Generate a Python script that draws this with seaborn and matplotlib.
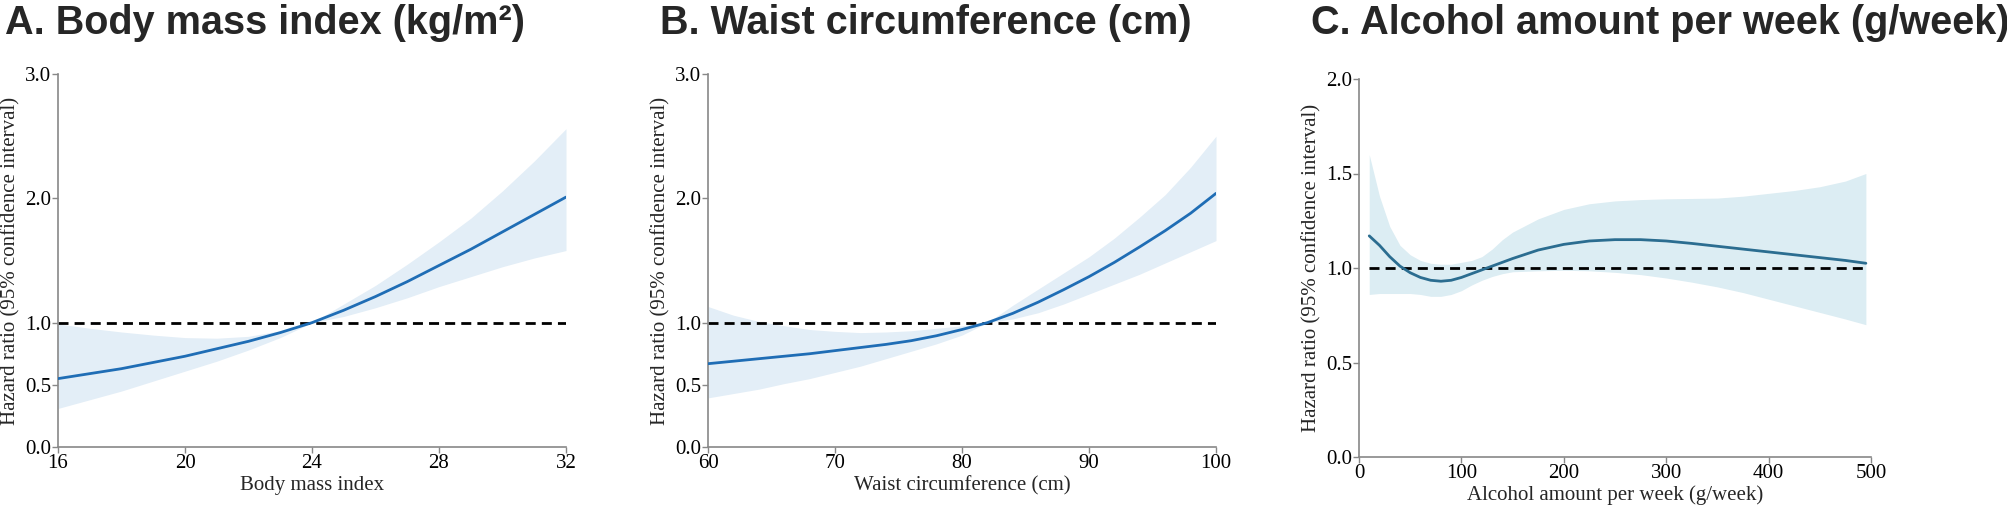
import seaborn as sns
import matplotlib.pyplot as plt
import numpy as np

# A. Body mass index
bmi = [16, 17, 18, 19, 20, 21, 22, 23, 24, 25, 26, 27, 28, 29, 30, 31, 32]
bmi_hr = [0.55, 0.59, 0.63, 0.68, 0.73, 0.79, 0.85, 0.92, 1.0, 1.10, 1.21, 1.33, 1.46, 1.59, 1.73, 1.87, 2.01]
bmi_upper = [0.99, 0.955, 0.925, 0.90, 0.88, 0.875, 0.89, 0.935, 1.0, 1.15, 1.30, 1.47, 1.65, 1.84, 2.06, 2.30, 2.56]
bmi_lower = [0.31, 0.38, 0.45, 0.53, 0.61, 0.69, 0.78, 0.88, 1.0, 1.05, 1.12, 1.20, 1.29, 1.37, 1.45, 1.52, 1.58]

# B. Waist circumference
waist = [60, 62, 64, 66, 68, 70, 72, 74, 76, 78, 80, 82, 84, 86, 88, 90, 92, 94, 96, 98, 100]
waist_hr = [0.67, 0.69, 0.71, 0.73, 0.75, 0.775, 0.80, 0.825, 0.855, 0.895, 0.945, 1.0, 1.075, 1.165, 1.265,
            1.37, 1.485, 1.61, 1.74, 1.88, 2.04]
waist_upper = [1.13, 1.06, 1.01, 0.975, 0.945, 0.93, 0.92, 0.925, 0.935, 0.955, 0.975, 1.0, 1.14, 1.27,
               1.40, 1.53, 1.68, 1.85, 2.03, 2.25, 2.50]
waist_lower = [0.395, 0.43, 0.465, 0.51, 0.55, 0.60, 0.65, 0.71, 0.77, 0.83, 0.90, 1.0, 1.03, 1.08, 1.15,
               1.23, 1.31, 1.39, 1.48, 1.57, 1.66]

# C. Alcohol amount per week
alcohol = [10, 20, 30, 40, 50, 60, 70, 80, 90, 100, 110, 120, 130, 140, 150, 175, 200, 225, 250, 275,
           300, 325, 350, 375, 400, 425, 450, 475, 495]
alcohol_hr = [1.17, 1.12, 1.06, 1.01, 0.975, 0.95, 0.935, 0.93, 0.935, 0.95, 0.97, 0.99, 1.01, 1.03, 1.05,
              1.095, 1.125, 1.143, 1.15, 1.15, 1.143, 1.13, 1.115, 1.10, 1.085, 1.07, 1.055, 1.04, 1.025]
alcohol_upper = [1.60, 1.38, 1.22, 1.12, 1.07, 1.04, 1.025, 1.02, 1.02, 1.03, 1.04, 1.06, 1.10, 1.15, 1.19,
                 1.26, 1.31, 1.34, 1.355, 1.362, 1.366, 1.368, 1.37, 1.38, 1.395, 1.41, 1.43, 1.46, 1.50]
alcohol_lower = [0.86, 0.865, 0.865, 0.865, 0.865, 0.86, 0.85, 0.85, 0.86, 0.88, 0.91, 0.935, 0.955, 0.97,
                 0.98, 0.985, 0.988, 0.985, 0.977, 0.965, 0.947, 0.925, 0.90, 0.87, 0.835, 0.80, 0.765,
                 0.73, 0.70]

titles = ['A. Body mass index (kg/m²)', 'B. Waist circumference (cm)', 'C. Alcohol amount per week (g/week)']
xlabels = ['Body mass index', 'Waist circumference (cm)', 'Alcohol amount per week (g/week)']
ylabel = 'Hazard ratio (95% confidence interval)'

sns.set_style('ticks')
plt.rcParams['font.family'] = ['Liberation Serif', 'DejaVu Serif']

fig = plt.figure(figsize=(20.08, 5.08), dpi=100)

# axes rectangles in figure fractions (left, bottom, width, height)
rects = [
    (58 / 2008, 61 / 508, 508 / 2008, 373 / 508),
    (708 / 2008, 61 / 508, 508 / 2008, 373 / 508),
    (1359 / 2008, 51 / 508, 512 / 2008, 378 / 508),
]
title_x = [5 / 2008, 660 / 2008, 1311 / 2008]

panels = [
    (bmi, bmi_hr, bmi_lower, bmi_upper, (16, 32), [16, 20, 24, 28, 32], (0, 3), [0, 0.5, 1, 2, 3],
     '#1f6db5', '#e3eef7'),
    (waist, waist_hr, waist_lower, waist_upper, (60, 100), [60, 70, 80, 90, 100], (0, 3), [0, 0.5, 1, 2, 3],
     '#1f6db5', '#e3eef7'),
    (alcohol, alcohol_hr, alcohol_lower, alcohol_upper, (0, 500), [0, 100, 200, 300, 400, 500], (0, 2),
     [0, 0.5, 1.0, 1.5, 2.0], '#2b6d90', '#dcedf3'),
]

for i, (x, hr, lo, hi, xlim, xticks, ylim, yticks, lc, fc) in enumerate(panels):
    ax = fig.add_axes(rects[i])
    x = np.array(x)
    ax.fill_between(x, lo, hi, color=fc, linewidth=0, zorder=1)
    ax.hlines(1.0, x.min(), x.max(), colors='black', linestyles=(0, (3.6, 2.2)), linewidth=2, zorder=2)
    sns.lineplot(x=x, y=hr, ax=ax, color=lc, linewidth=2, zorder=3)
    ax.set_xlim(*xlim)
    ax.set_ylim(*ylim)
    ax.set_xticks(xticks)
    ax.set_yticks(yticks)
    ax.set_yticklabels([f'{v:.1f}' for v in yticks])
    ax.tick_params(axis='both', labelsize=15, length=4, width=1, color='#888888', labelcolor='black', pad=1)
    ax.set_xlabel(xlabels[i], fontsize=15, labelpad=2)
    ax.set_ylabel(ylabel, fontsize=15, labelpad=3)
    sns.despine(ax=ax)
    for side in ['left', 'bottom']:
        ax.spines[side].set_color('#888888')
        ax.spines[side].set_linewidth(1.2)
    fig.text(title_x[i], 1 - 34 / 508, titles[i], fontsize=28.5, fontweight='bold',
             family=['Liberation Sans', 'DejaVu Sans'], va='baseline', ha='left')

fig.savefig('out.png', dpi=100)
